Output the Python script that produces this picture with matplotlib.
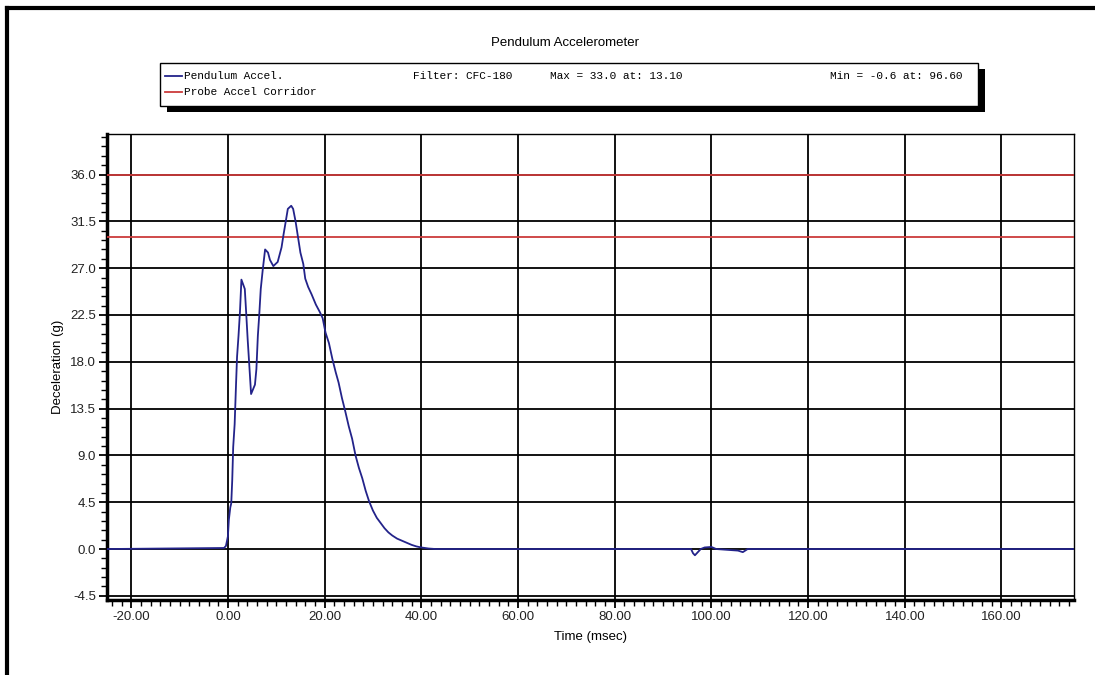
import matplotlib
matplotlib.use("Agg")
import matplotlib.pyplot as plt
from matplotlib.lines import Line2D
from matplotlib.patches import Rectangle
from matplotlib.ticker import MultipleLocator, FixedLocator

# pendulum accel trace (msec, g)
time_ms = [-25.0, -0.8, -0.4, 0.0, 0.2, 0.5, 0.7, 0.9, 1.1, 1.4, 1.7, 1.9, 2.2, 2.5,
           2.8, 3.5, 3.8, 4.1, 4.4, 4.8, 5.6, 5.9, 6.2, 6.5, 6.8, 7.2, 7.7, 8.3, 8.7,
           9.4, 10.3, 10.7, 11.1, 11.5, 11.9, 12.4, 13.1, 13.5, 14.0, 14.5, 15.0, 15.6,
           16.0, 16.6, 17.3, 18.2, 19.0, 19.6, 20.2, 20.9, 21.6, 22.3, 22.9, 23.6, 24.3,
           25.0, 25.7, 26.4, 27.1, 27.8, 28.5, 29.2, 30.0, 30.8, 31.6, 32.4, 33.2, 34.0,
           35.0, 36.0, 37.0, 38.0, 39.0, 40.0, 41.5, 43.0, 95.8, 96.2, 96.6, 97.2, 97.8,
           98.6, 100.0, 101.0, 105.5, 106.5, 107.5, 175.0]
accel_g = [0.0, 0.1, 0.3, 1.2, 2.8, 4.0, 4.4, 6.6, 9.8, 12.0, 16.0, 18.5, 20.5, 22.8,
           25.9, 25.0, 22.6, 20.1, 17.9, 14.9, 15.8, 17.3, 20.5, 22.6, 25.0, 26.8, 28.8,
           28.5, 27.8, 27.2, 27.6, 28.3, 29.0, 30.2, 31.3, 32.7, 33.0, 32.7, 31.5, 30.0,
           28.5, 27.4, 26.0, 25.2, 24.5, 23.5, 22.8, 22.2, 20.8, 19.8, 18.3, 17.0, 16.0,
           14.5, 13.2, 11.8, 10.6, 9.0, 7.8, 6.8, 5.6, 4.6, 3.7, 3.0, 2.5, 2.0, 1.6, 1.3,
           1.0, 0.8, 0.6, 0.4, 0.25, 0.15, 0.05, 0.0, 0.0, -0.4, -0.6, -0.3, 0.0,
           0.15, 0.2, 0.0, -0.15, -0.3, 0.0, 0.0]

corridor_g = [30.0, 36.0]

x_ticks = [-20, 0, 20, 40, 60, 80, 100, 120, 140, 160]
y_ticks = [-4.5, 0.0, 4.5, 9.0, 13.5, 18.0, 22.5, 27.0, 31.5, 36.0]

title = "Pendulum Accelerometer"
legend_rows = [("Pendulum Accel.", "#23238a"), ("Probe Accel Corridor", "#cc3b3b")]
legend_info = ["Filter: CFC-180", "Max = 33.0 at: 13.10", "Min = -0.6 at: 96.60"]

W, H = 1095, 675
fig = plt.figure(figsize=(W / 100, H / 100), dpi=100)
fig.patch.set_facecolor("white")

def fx(px):
    return px / W

def fy(py):
    return 1 - py / H

ax = fig.add_axes([fx(107), fy(600), fx(1074) - fx(107), fy(134) - fy(600)])

for g in corridor_g:
    ax.axhline(g, color=legend_rows[1][1], lw=1.3, zorder=3)
ax.plot(time_ms, accel_g, color=legend_rows[0][1], lw=1.3, zorder=4)

ax.set_xlim(-25, 175)
ax.set_ylim(-4.9, 39.9)
ax.xaxis.set_major_locator(FixedLocator(x_ticks))
ax.yaxis.set_major_locator(FixedLocator(y_ticks))
ax.xaxis.set_minor_locator(MultipleLocator(2))
ax.yaxis.set_minor_locator(MultipleLocator(0.9))
ax.set_xticklabels(["%.2f" % v for v in x_ticks])
ax.set_yticklabels(["%.1f" % v for v in y_ticks])
ax.grid(True, which="major", color="black", lw=1.3, zorder=1)
ax.set_axisbelow(True)

ax.tick_params(which="major", direction="out", length=6, width=1.3, colors="black",
               labelsize=9.5, pad=2)
ax.tick_params(which="minor", direction="out", length=4, width=1.0, colors="black")
for lab in ax.get_xticklabels() + ax.get_yticklabels():
    lab.set_fontfamily("Liberation Sans")
    lab.set_color("#222222")

ax.spines["left"].set_linewidth(2.5)
ax.spines["bottom"].set_linewidth(2.5)
ax.spines["top"].set_linewidth(1.0)
ax.spines["right"].set_linewidth(1.0)

ax.set_xlabel("Time (msec)", fontsize=9.5, family="Liberation Sans", labelpad=6)
ax.set_ylabel("Deceleration (g)", fontsize=9.5, family="Liberation Sans", labelpad=4)

fig.text(fx(565), fy(43), title, ha="center", va="center", fontsize=9.5,
         family="Liberation Sans")

# legend box with drop shadow
bx0, by0, bx1, by1 = 160, 63, 978, 106
fig.add_artist(Rectangle((fx(bx0 + 7), fy(by1 + 6)), fx(bx1 - bx0), fy(by0) - fy(by1),
                         transform=fig.transFigure, facecolor="black", edgecolor="none"))
fig.add_artist(Rectangle((fx(bx0), fy(by1)), fx(bx1 - bx0), fy(by0) - fy(by1),
                         transform=fig.transFigure, facecolor="white", edgecolor="black", lw=1.0))
row_y = [76, 92]
for (name, col), ry in zip(legend_rows, row_y):
    fig.add_artist(Line2D([fx(165), fx(182)], [fy(ry), fy(ry)], color=col, lw=1.3,
                          transform=fig.transFigure))
    fig.text(fx(184), fy(ry), name, ha="left", va="center", fontsize=8,
             family="Liberation Mono", color="black")
for txt, px in zip(legend_info, [413, 550, 830]):
    fig.text(fx(px), fy(row_y[0]), txt, ha="left", va="center", fontsize=8,
             family="Liberation Mono", color="black")

# outer frame (left and top edges)
fig.add_artist(Line2D([fx(7), fx(7)], [fy(8), 0], color="black", lw=3, transform=fig.transFigure))
fig.add_artist(Line2D([fx(7), 1], [fy(8), fy(8)], color="black", lw=3, transform=fig.transFigure))

fig.savefig("out.png", dpi=100)
